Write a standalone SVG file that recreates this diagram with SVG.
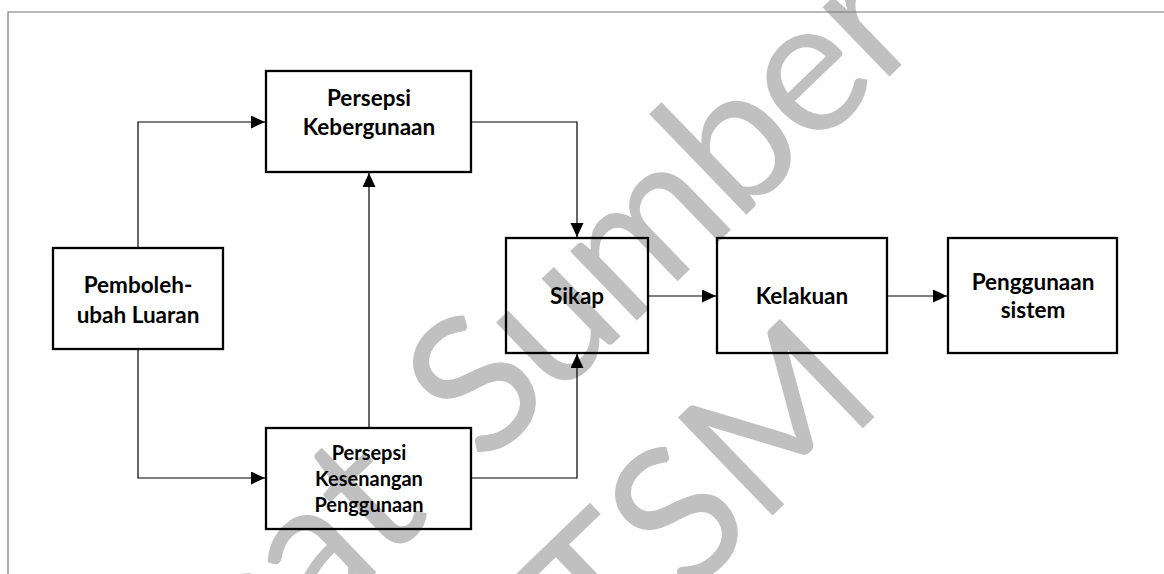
<svg xmlns="http://www.w3.org/2000/svg" width="1164" height="574" viewBox="0 0 1164 574">
  <style>
    .wm { font-family: Lato, "Liberation Sans", sans-serif; font-size: 190px; fill: #c0c0c0; }
    .tight { letter-spacing: -4px; }
    .frame { fill: none; stroke: #777777; stroke-width: 1.2; }
    .box { fill: none; stroke: #000000; stroke-width: 2.3; }
    .link { fill: none; stroke: #000000; stroke-width: 1.2; }
    .lbl { font-family: Lato, "Liberation Sans", sans-serif; font-weight: bold; font-size: 22.5px; fill: #000000; text-anchor: middle; }
    .sm { font-size: 20px; }
  </style>
  <defs>
    <marker id="arrow" markerUnits="userSpaceOnUse" markerWidth="15" markerHeight="14" refX="14" refY="6.5" orient="auto">
      <path d="M0,0 L14,6.5 L0,13 z" fill="#000000"/>
    </marker>
  </defs>

  <rect width="1164" height="574" fill="#ffffff"/>

  <!-- library stamp in the background -->
  <g id="stamp">
    <text class="wm" transform="translate(484,468) rotate(-44)"><tspan x="-22" text-anchor="end">Pusat </tspan><tspan class="tight" x="0">Sumber</tspan></text>
    <text class="wm" transform="translate(887,405) rotate(-44)" text-anchor="end">FTSM</text>
  </g>

  <!-- page frame -->
  <path class="frame" d="M8,574 V12 H1164"/>

  <g id="connectors">
    <path class="link" d="M138,248 V122 H265" marker-end="url(#arrow)"/>
    <path class="link" d="M471,122 H577 V237" marker-end="url(#arrow)"/>
    <path class="link" d="M369,428 V173" marker-end="url(#arrow)"/>
    <path class="link" d="M138,350 V478 H265" marker-end="url(#arrow)"/>
    <path class="link" d="M471,478 H577 V354" marker-end="url(#arrow)"/>
    <path class="link" d="M648,296 H716" marker-end="url(#arrow)"/>
    <path class="link" d="M887,296 H947" marker-end="url(#arrow)"/>
  </g>

  <g id="pemboleh-ubah-luaran">
    <rect class="box" x="53" y="248" width="170" height="101"/>
    <text class="lbl" x="138" y="293">Pemboleh-</text>
    <text class="lbl" x="138" y="323">ubah Luaran</text>
  </g>

  <g id="persepsi-kebergunaan">
    <rect class="box" x="266" y="71" width="205" height="101"/>
    <text class="lbl" x="369" y="106">Persepsi</text>
    <text class="lbl" x="369" y="135">Kebergunaan</text>
  </g>

  <g id="persepsi-kesenangan-penggunaan">
    <rect class="box" x="266" y="428" width="205" height="101"/>
    <text class="lbl sm" x="369" y="460">Persepsi</text>
    <text class="lbl sm" x="369" y="486">Kesenangan</text>
    <text class="lbl sm" x="369" y="512">Penggunaan</text>
  </g>

  <g id="sikap">
    <rect class="box" x="506" y="238" width="142" height="115"/>
    <text class="lbl" x="577" y="304">Sikap</text>
  </g>

  <g id="kelakuan">
    <rect class="box" x="717" y="238" width="170" height="115"/>
    <text class="lbl" x="802" y="304">Kelakuan</text>
  </g>

  <g id="penggunaan-sistem">
    <rect class="box" x="948" y="238" width="169" height="115"/>
    <text class="lbl" x="1033" y="290">Penggunaan</text>
    <text class="lbl" x="1033" y="318">sistem</text>
  </g>
</svg>
